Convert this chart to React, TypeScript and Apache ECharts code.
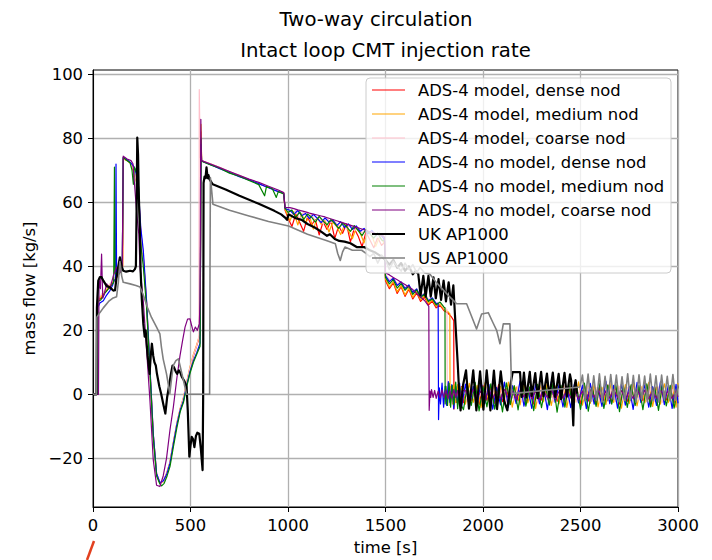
import React, { useEffect, useRef } from "react";
import * as echarts from "echarts";

// ---------- labels ----------
const TITLE = "Two-way circulation";
const SUBTITLE = "Intact loop CMT injection rate";
const X_NAME = "time [s]";
const Y_NAME = "mass flow [kg/s]";
const SERIES_NAMES = [
  "ADS-4 model, dense nod",
  "ADS-4 model, medium nod",
  "ADS-4 model, coarse nod",
  "ADS-4 no model, dense nod",
  "ADS-4 no model, medium nod",
  "ADS-4 no model, coarse nod",
  "UK AP1000",
  "US AP1000",
];
const Y_TICKS = [-20, 0, 20, 40, 60, 80, 100];
const X_TICKS = [0, 500, 1000, 1500, 2000, 2500, 3000];

// ---------- shared sample times ----------
const MID_T = [1000, 1020, 1040, 1060, 1080, 1100, 1120, 1140, 1160, 1180, 1200, 1220, 1240, 1260, 1280, 1300, 1320, 1340, 1360, 1380, 1400, 1420, 1440, 1460, 1480];
const MID_T_B = [1010, 1030, 1050, 1070, 1090, 1110, 1130, 1150, 1170, 1190, 1210, 1230, 1250, 1270, 1290, 1310, 1330, 1350, 1370, 1390, 1410, 1430, 1450, 1470, 1490];
const TAIL_T = [1900, 1920, 1940, 1960, 1980, 2000, 2020, 2040, 2060, 2080, 2100, 2120, 2140, 2160, 2180, 2200, 2220, 2240, 2260, 2280, 2300, 2320, 2340, 2360, 2380, 2400, 2420, 2440, 2460, 2480, 2500, 2520, 2540, 2560, 2580, 2600, 2620, 2640, 2660, 2680, 2700, 2720, 2740, 2760, 2780, 2800, 2820, 2840, 2860, 2880, 2900, 2920, 2940, 2960, 2980, 3000];
const TAIL_T_B = [1910, 1930, 1950, 1970, 1990, 2010, 2030, 2050, 2070, 2090, 2110, 2130, 2150, 2170, 2190, 2210, 2230, 2250, 2270, 2290, 2310, 2330, 2350, 2370, 2390, 2410, 2430, 2450, 2470, 2490, 2510, 2530, 2550, 2570, 2590, 2610, 2630, 2650, 2670, 2690, 2710, 2730, 2750, 2770, 2790, 2810, 2830, 2850, 2870, 2890, 2910, 2930, 2950, 2970, 2990, 3000];

// ---------- ADS-4 model, dense nod (red) ----------
const RED_HEAD = [[0,0],[23,0],[25,29.5],[40,30],[60,31.8],[80,33.2],[100,34.8],[120,36.3],[140,38.3],[152,40],[156,73.6],[175,73.1],[195,72.1],[210,69.5],[225,66.5],[235,61],[245,51],[258,43],[275,28.5],[292,8],[309,-12.5],[326,-24.8],[343,-27.7],[361,-27.2],[378,-24.6],[395,-21.2],[412,-15.2],[430,-9.2],[447,-4.6],[464,-1.3],[481,3.6],[497,8],[515,12],[532,15.2],[549,18.5],[552,52],[554,82],[557,72.9],[600,71.9],[650,70.7],[700,69.5],[750,68.2],[800,67.1],[850,65.8],[900,64.6],[950,63.4],[978,62.8],[985,57.5]];
const RED_MID = [55.1,52.4,56.3,53.7,50.9,55.4,52.8,54.6,49.8,53.9,51.5,54.1,48.7,52.6,50.3,53.2,47.6,51.8,49.4,46.1,50.7,48.2,45.8,49,46.5];
const RED_LOW = [[1495,47.5],[1500,35.5],[1520,33],[1540,34.8],[1560,31.5],[1580,33.6],[1600,30.6],[1620,32.8],[1640,29.8],[1660,31.7],[1680,29],[1700,30.4],[1720,27.9],[1740,29.1],[1760,27],[1780,27.8],[1800,26.1],[1820,25.4],[1840,24],[1850,23],[1851,-4.6],[1856,2],[1864,-2.5],[1872,2.7],[1880,-2.2],[1890,2.4]];
const RED_TAIL = [-2.6,2.9,-2.1,2.4,-3.2,2.7,-1.9,2.2,-2.8,3.0,-2.3,1.8,-3.0,2.5,-2.0,2.8,-2.6,2.1,-3.1,2.6,-1.8,2.3,-2.9,3.1,-2.2,2.0,-2.7,2.6,-2.4,1.9,-3.0,2.7,-2.1,2.4,-2.8,2.2,-1.9,2.9,-2.5,2.3,-3.1,2.0,-2.2,2.7,-2.6,2.1,-2.0,2.8,-2.9,2.4,-2.3,2.5,-1.8,2.2,-2.7,2.6];

// ---------- ADS-4 model, medium nod (orange) ----------
const ORANGE_HEAD = [[0,0],[23,0],[25,30],[40,30.5],[60,32],[80,33.5],[100,35],[120,36.5],[140,38.5],[152,40],[156,73.5],[175,73],[195,72],[210,69],[225,66],[235,60],[245,50],[258,42],[275,28],[292,7.5],[309,-12.8],[326,-25],[343,-27.8],[361,-27.3],[378,-24.8],[395,-21],[412,-15],[430,-9],[447,-4.5],[464,-1],[481,4],[497,8.5],[515,12.5],[532,15.5],[549,19],[552,55],[554,84.3],[557,73],[600,72],[650,70.8],[700,69.4],[750,68.3],[800,67],[850,65.9],[900,64.7],[950,63.5],[978,62.9],[985,57.8]];
const ORANGE_MID = [54.2,57.1,52.9,56.4,53.5,55.7,51.6,55.2,53.1,54.3,50.7,53.8,52.4,49.9,53,51.2,48.6,52.1,50.4,47.3,50.8,49.5,46.2,49.3,47.5];
const ORANGE_LOW = [[1495,47],[1500,36],[1520,33.5],[1540,35.2],[1560,32],[1580,34],[1600,31],[1620,33.2],[1640,30.3],[1660,32.1],[1680,29.5],[1700,30.8],[1720,28.4],[1740,29.5],[1760,27.5],[1780,28.1],[1800,26.5],[1820,25.8],[1830,25.1],[1831,-3.5],[1836,2.5],[1844,-3],[1852,3.2],[1860,-2.6],[1870,3],[1880,-3.4],[1890,2.2]];
const ORANGE_TAIL = [-3.1,3.4,-2.5,2.8,-4.2,3.6,-2.2,3.0,-3.7,2.5,-2.9,3.8,-4.0,2.3,-3.3,3.5,-2.7,2.9,-4.4,3.2,-2.4,3.7,-3.5,2.6,-3.0,3.3,-4.1,2.4,-2.6,3.9,-3.4,2.7,-2.8,3.1,-3.9,2.2,-3.2,3.6,-2.5,2.8,-4.3,3.0,-2.9,3.4,-3.6,2.5,-2.7,3.7,-3.8,2.3,-3.1,3.3,-2.6,2.9,-4.0,3.5];

// ---------- ADS-4 model, coarse nod (pink) ----------
const PINK_HEAD = [[0,0],[24,0],[26,30],[40,31],[60,32.5],[80,34],[100,35.5],[120,37],[140,38.8],[151,40],[155,73.8],[175,73.2],[195,72.2],[210,69.8],[225,66],[235,60.5],[245,50.5],[258,42.5],[275,28.2],[292,7.8],[309,-12.6],[326,-24.9],[343,-27.7],[361,-27.2],[378,-24.7],[395,-21.1],[412,-15.1],[430,-9.1],[447,-4.5],[464,-1.2],[481,3.8],[497,8.3],[515,12.3],[532,15.3],[543,18],[545,95.2],[550,74],[557,73],[600,72.1],[650,70.9],[700,69.6],[750,68.4],[800,67.1],[850,66],[900,64.8],[950,63.6],[978,63],[985,58.6]];
const PINK_MID = [56.9,55.8,57.5,54.6,56.9,55.3,56.2,54.1,55.6,53.2,55,53.7,54.1,52.3,53.8,51.6,52.9,51.2,51.9,50.4,51.3,49.7,50.6,48.9,49.2];
const PINK_LOW = [[1495,48.5],[1500,37.5],[1520,35.8],[1540,36.4],[1560,34.6],[1580,35.2],[1600,33.4],[1620,34],[1640,32.3],[1660,32.9],[1680,31],[1700,31.6],[1720,29.7],[1740,30],[1760,28.4],[1780,28.6],[1800,27],[1815,26.5],[1817,-2.5],[1822,2],[1830,-2.4],[1840,2.6],[1850,-2],[1860,2.3],[1870,-2.6],[1880,2.1],[1890,-1.9]];
const PINK_TAIL = [2.4,-2.2,2.8,-1.9,2.3,-2.6,2.0,-2.3,2.7,-2.0,2.2,-2.5,1.9,-2.1,2.6,-2.4,2.1,-1.8,2.5,-2.7,2.2,-2.0,2.4,-2.3,1.8,-2.5,2.7,-2.1,2.0,-2.4,2.3,-1.9,2.6,-2.2,2.1,-2.6,2.4,-2.0,1.9,-2.3,2.5,-2.1,2.2,-2.6,2.0,-1.8,2.6,-2.4,2.1,-2.2,2.3,-2.5,1.9,-2.0,2.4,-2.2];

// ---------- ADS-4 no model, dense nod (blue) ----------
const BLUE_HEAD = [[0,0],[22,0],[24,27],[35,28.5],[53,29.2],[70,31],[87,32.4],[100,34],[108,35.5],[116,36],[118,71.9],[121,37.6],[130,38],[138,38.6],[150,39],[155,73.9],[170,73.5],[190,72.5],[205,71.5],[215,70.5],[225,68],[235,62],[245,52],[258,44.9],[275,29],[292,8.5],[309,-12.2],[326,-24.7],[343,-27.6],[361,-27],[378,-25],[395,-21.5],[412,-15.5],[430,-9.5],[447,-5],[464,-2],[481,3],[497,7],[515,10.5],[532,13],[549,16],[552,50],[554,78],[557,72.9],[600,71.8],[650,70.5],[700,69.3],[750,68],[800,67],[850,65.8],[900,64.5],[950,63.3],[978,62.8],[985,58]];
const BLUE_MID = [57.5,56.2,57.4,55.8,56.5,54.9,56.2,55,53.6,55.1,53.8,54.5,52.7,53.9,52.1,53.2,51.5,52.6,50.9,51.8,50.1,51.2,49.6,50.3,48.7];
const BLUE_LOW = [[1495,48],[1500,37],[1520,35.2],[1540,36.3],[1560,34],[1580,35.1],[1600,33],[1620,34.2],[1640,31.8],[1660,32.9],[1680,30.5],[1700,31.4],[1720,29.2],[1740,30.1],[1760,28.3],[1770,28.5],[1772,-7.9],[1776,2],[1782,-3],[1790,3.5],[1798,-4],[1806,2.5],[1814,-3.5],[1822,4],[1830,-2.5],[1840,3],[1850,-4.5],[1860,2.5],[1870,-3],[1880,3.5],[1890,-4]];
const BLUE_TAIL = [3.2,-4.1,2.5,-3.6,4.0,-2.8,3.1,-4.6,2.2,-3.3,3.8,-4.0,2.7,-2.9,4.2,-3.7,1.9,-4.4,3.3,-3.0,2.6,-4.8,3.9,-2.5,3.0,-3.9,2.3,-4.2,3.6,-2.7,2.9,-4.5,3.4,-3.1,2.1,-3.8,4.1,-2.9,2.8,-4.3,3.2,-3.4,2.5,-4.7,3.7,-2.6,3.0,-4.0,2.4,-3.5,3.9,-3.2,2.7,-4.4,3.1,-2.8];

// ---------- ADS-4 no model, medium nod (green) ----------
const GREEN_HEAD = [[0,0],[22,0],[25,29],[40,29.5],[60,31.5],[80,33],[95,34],[106,35],[110,71],[113,38],[125,37],[140,38.2],[150,39.5],[155,74],[170,73.2],[190,72.3],[200,70],[207,65.6],[212,71],[225,69],[235,64],[241,50],[250,44],[258,40],[275,27],[292,7],[309,-13.5],[326,-25.5],[343,-28],[352,-28.6],[365,-27.8],[380,-25.5],[395,-22.5],[412,-16.5],[430,-10.5],[447,-5.5],[464,-2.5],[481,2.5],[497,6.5],[515,10],[532,12.5],[549,15],[552,48],[554,80],[557,72.8],[600,71.7],[650,70.6],[700,69.1],[750,68.1],[800,66.8],[850,65.5],[880,62],[890,65],[920,64.2],[940,61.5],[950,63.3],[978,62.6],[985,58.2]];
const GREEN_MID = [56.8,57.6,55.2,57,54.6,56.3,55.4,53.8,55.6,54.2,52.9,54.6,53.3,51.8,53.5,52.4,50.9,52.7,51.1,49.6,51.5,50.2,48.8,50.4,48.2];
const GREEN_LOW = [[1495,47.8],[1500,36.5],[1520,34.5],[1540,35.8],[1560,33.2],[1580,34.6],[1600,32.5],[1620,33.8],[1640,31.2],[1660,32.6],[1680,30.2],[1700,31.3],[1720,29],[1740,29.8],[1760,27.9],[1780,28.8],[1800,27.2],[1805,27],[1806,-3],[1810,2.5],[1818,-3.5],[1826,3.5],[1834,-4],[1842,2.8],[1850,-3.2],[1860,3.8],[1870,-4.5],[1880,2.6],[1890,-3.6]];
const GREEN_TAIL = [-4.8,2.9,-3.5,3.7,-5.2,2.4,-3.9,3.3,-4.6,2.1,-5.5,3.6,-3.2,2.7,-4.9,3.9,-3.7,2.3,-5.1,3.1,-4.2,2.6,-3.4,3.8,-5.6,2.8,-4.0,3.2,-3.6,2.5,-4.7,3.5,-5.3,2.2,-3.8,3.6,-4.4,2.9,-3.1,3.4,-5.4,2.6,-4.1,3.0,-3.5,2.7,-4.8,3.3,-3.9,2.4,-5.0,3.1,-3.6,2.8,-4.3,2.5];

// ---------- ADS-4 no model, coarse nod (purple) ----------
const PURPLE_HEAD = [[0,0],[28,0],[31,36],[38,33],[44,43.8],[50,30],[56,31],[70,34.5],[87,33],[100,36],[104,37],[121,39.7],[138,38],[150,40],[155,74.4],[175,73.5],[195,73],[205,72],[215,64],[225,56],[235,50],[241,39.7],[258,29],[275,13.7],[292,-1.9],[309,-20.5],[326,-28.4],[343,-28.8],[360,-25.5],[377,-20],[395,-11],[412,-4],[430,5],[446,12],[460,17],[472,21],[485,23.5],[497,23.6],[510,20.5],[515,19.5],[525,21],[535,20],[545,22],[549,29],[551,60],[553,85.9],[556,73],[600,72],[650,70.8],[700,69.6],[750,68.4],[800,67.2],[850,66.2],[900,65],[950,63.8],[978,63],[985,58.4]];
const PURPLE_MID = [58.3,58,57.6,57.3,57,56.6,56.3,56,55.7,55.4,55,54.6,54.2,53.8,53.4,53,52.6,52.2,51.8,51.4,51,50.6,50.2,49.8,49.4];
const PURPLE_LOW = [[1495,49],[1500,38],[1520,37.3],[1540,36.5],[1560,35.8],[1580,35],[1600,34.3],[1620,33.5],[1640,32.7],[1660,31.5],[1680,30.4],[1700,29.3],[1712,28.3],[1722,27.5],[1724,-5],[1728,1],[1732,-1],[1736,1.5],[1744,-1],[1752,1.2],[1760,-1.3],[1770,1],[1780,-1.2],[1790,1.4],[1800,-1],[1810,1.3],[1820,-1.4],[1830,1],[1840,-1.2],[1850,1.5],[1860,-1],[1870,1.2],[1880,-1.3],[1890,1]];
const PURPLE_TAIL = [1.2,-1.3,1.5,-0.9,1.1,-1.6,1.4,-1.1,0.9,-1.4,1.6,-1.2,1.0,-1.5,1.3,-0.8,1.5,-1.3,1.1,-1.6,1.2,-1.0,1.4,-1.4,0.9,-1.2,1.6,-1.1,1.2,-1.5,1.0,-1.3,1.4,-0.9,1.3,-1.6,1.1,-1.2,1.5,-1.0,1.2,-1.4,0.9,-1.3,1.6,-1.1,1.3,-1.5,1.0,-1.2,1.4,-1.0,1.2,-1.4,1.1,-0.8];

// ---------- UK AP1000 (black) ----------
const UK_AP1000 = [[0,0],[18,0],[20,27],[27,35.5],[35,36.6],[44,36.6],[53,35.5],[70,33.8],[87,33.4],[104,32.4],[113,32.5],[121,36.6],[130,40],[138,42.8],[147,40],[155,38.6],[170,38.3],[190,38.6],[205,38.4],[215,39.1],[220,40],[224,60],[227,80.2],[231,75],[235,62],[240,52],[244,39],[250,30],[258,22],[265,18],[270,20],[280,12],[290,6.4],[296,12],[302,15.8],[309,12],[315,10],[322,9],[328,6.4],[340,2.5],[350,0],[362,-3.5],[371,-6],[380,-1],[389,2.3],[400,6.5],[408,9],[415,8.5],[425,7],[432,6.4],[440,7.5],[448,6.8],[455,5.5],[470,4],[480,2.3],[486,-5],[494,-19.5],[500,-16],[506,-13.3],[513,-14],[520,-16.5],[528,-13],[535,-12],[545,-12.3],[553,-17],[562,-23.7],[565,0],[567,66],[572,68],[577,67.5],[582,70.9],[588,67.5],[592,68.5],[597,67.2],[614,65.6],[680,64],[751,62],[850,59.5],[930,57.3],[965,56.2],[985,55.2],[995,54.5],[1003,56.2],[1040,55],[1070,54.5],[1100,53.2],[1137,52.1],[1170,50.8],[1200,49.5],[1215,50],[1240,48.5],[1263,47.9],[1290,47.7],[1320,47.2],[1352,46],[1390,46],[1420,45],[1450,44.2],[1480,43],[1500,42],[1520,40.5],[1540,42],[1560,39.5],[1580,41],[1600,38.6],[1620,40],[1640,37.5],[1655,38.5],[1668,37.6],[1680,31],[1694,37],[1706,30.5],[1720,37],[1732,30.5],[1746,36.5],[1758,30],[1772,36],[1785,29.5],[1798,35.5],[1810,29],[1824,35],[1836,28],[1848,34],[1856,25],[1870,10],[1880,-2],[1885,-5],[1898,3],[1913,7.5],[1928,-4.5],[1950,7.5],[1966,-5],[1985,7.2],[2002,-4.8],[2019,7.5],[2038,-5],[2056,7.4],[2072,-4.6],[2091,7.2],[2108,-2],[2125,-5],[2138,2],[2152,6.9],[2190,6.9],[2198,-0.8],[2210,6.8],[2222,-1],[2240,7],[2250,-0.5],[2268,6.6],[2280,-1.2],[2298,7],[2310,-0.6],[2328,6.5],[2340,-1],[2358,6.8],[2370,-0.8],[2388,6.4],[2400,-1.5],[2418,6.7],[2430,-0.7],[2446,6.2],[2452,4.4],[2458,-3],[2463,-9.7],[2468,2],[2475,4.4],[2482,0.2]];

// ---------- US AP1000 (gray) ----------
const US_AP1000 = [[0,0],[18,0],[20,24.1],[35,25.5],[53,27],[80,29],[100,30],[121,30.5],[130,35],[138,41.5],[147,37],[155,35],[190,34.5],[220,34],[241,33.5],[258,31],[280,27],[300,24],[326,21],[343,18.9],[351,14.7],[360,11],[377,6.4],[394,0.2],[403,5],[412,9],[425,10.5],[438,11.1],[450,8],[465,4],[480,0],[598,0],[600,40],[602,67.7],[608,64],[615,59.4],[700,57.5],[800,55.7],[900,54],[1003,52.6],[1100,50],[1200,48],[1243,47],[1255,44],[1268,41.8],[1280,44.5],[1292,46],[1330,45],[1378,45],[1400,44],[1420,43],[1440,44],[1460,41],[1480,43.5],[1500,42],[1520,39],[1540,41.5],[1560,40],[1580,38.5],[1600,41],[1620,39],[1640,40.5],[1660,38],[1677,39.6],[1700,38],[1728,37.5],[1760,35],[1790,33],[1820,31],[1845,29.5],[1865,28.3],[1916,28.3],[1967,20.4],[1993,25.1],[2027,25.5],[2050,22.5],[2070,20],[2087,15.8],[2104,22],[2138,22],[2147,0.2],[2497,2.3],[2510,6],[2524,-2],[2539,6.3],[2553,-2.2],[2568,5.8],[2582,-1.8],[2597,6.4],[2611,-2.4],[2626,5.6],[2640,-2],[2655,6.2],[2669,-1.6],[2684,6],[2698,-2.3],[2713,5.5],[2727,-2],[2742,6.4],[2756,-1.9],[2771,5.9],[2785,-2.5],[2800,6.1],[2814,-1.7],[2829,5.7],[2843,-2.2],[2858,6.3],[2872,-2],[2887,5.8],[2901,-2.4],[2916,6],[2930,-1.8],[2945,5.6],[2959,-2.1],[2974,6.2],[2988,-1.9],[3000,3]];

const zip = (t: number[], v: number[]) => t.map((x, i) => [x, v[i]]);
const build = (head: number[][], midT: number[], mid: number[], low: number[][], tailT: number[], tail: number[]) =>
  [...head, ...zip(midT, mid), ...low, ...zip(tailT, tail)];

const COLORS = ["#ff0000", "#ffa500", "#ffc0cb", "#0000ff", "#008000", "#800080", "#000000", "#808080"];
const WIDTHS = [1.2, 1.2, 1.2, 1.2, 1.2, 1.2, 2.2, 1.6];

const FONT = "'DejaVu Sans', 'Liberation Sans', sans-serif";

// plot-area geometry (pixels)
const G_LEFT = 93, G_TOP = 70, G_W = 585, G_H = 437;

export default function App() {
  const ref = useRef<HTMLDivElement>(null);
  useEffect(() => {
    if (!ref.current) return;
    const chart = echarts.init(ref.current, undefined, { renderer: "svg" });
    const data = [
      build(RED_HEAD, MID_T, RED_MID, RED_LOW, TAIL_T, RED_TAIL),
      build(ORANGE_HEAD, MID_T_B, ORANGE_MID, ORANGE_LOW, TAIL_T_B, ORANGE_TAIL),
      build(PINK_HEAD, MID_T, PINK_MID, PINK_LOW, TAIL_T, PINK_TAIL),
      build(BLUE_HEAD, MID_T_B, BLUE_MID, BLUE_LOW, TAIL_T_B, BLUE_TAIL),
      build(GREEN_HEAD, MID_T, GREEN_MID, GREEN_LOW, TAIL_T, GREEN_TAIL),
      build(PURPLE_HEAD, MID_T_B, PURPLE_MID, PURPLE_LOW, TAIL_T_B, PURPLE_TAIL),
      UK_AP1000,
      US_AP1000,
    ];
    const series = SERIES_NAMES.map((name, i) => ({
      name,
      type: "line",
      data: data[i],
      showSymbol: false,
      symbol: "none",
      clip: true,
      z: 2 + i * 0.01,
      lineStyle: { color: COLORS[i], width: WIDTHS[i], join: "round" },
      itemStyle: { color: COLORS[i] },
      emphasis: { disabled: true },
    }));

    const legendEls: any[] = [
      {
        type: "rect",
        z: 100,
        shape: { x: 366, y: 78, width: 305, height: 195, r: 4 },
        style: { fill: "rgba(255,255,255,0.8)", stroke: "#cccccc", lineWidth: 1 },
      },
    ];
    SERIES_NAMES.forEach((n, i) => {
      const y = 90 + 24 * i;
      legendEls.push({
        type: "line",
        z: 101,
        shape: { x1: 372, y1: y, x2: 405, y2: y },
        style: { stroke: COLORS[i], lineWidth: WIDTHS[i] },
      });
      legendEls.push({
        type: "text",
        z: 101,
        x: 418,
        y: y,
        style: {
          text: n,
          fill: "#000",
          font: `16.4px ${FONT}`,
          align: "left",
          verticalAlign: "middle",
          textAlign: "left",
          textVerticalAlign: "middle",
        },
      });
    });

    const fmtY = (v: number) => {
      const r = Math.round(v);
      if (Math.abs(v - r) > 1e-6 || r % 20 !== 0) return "";
      return r < 0 ? "\u2212" + Math.abs(r) : String(r);
    };
    const fmtX = (v: number) => String(Math.round(v));

    chart.setOption({
      animation: false,
      textStyle: { fontFamily: FONT },
      grid: {
        left: G_LEFT, top: G_TOP, width: G_W, height: G_H,
        show: true, borderColor: "#000", borderWidth: 1, backgroundColor: "transparent",
        containLabel: false,
      },
      xAxis: {
        type: "value",
        min: 0,
        max: 3000,
        interval: 500,
        name: X_NAME,
        nameLocation: "middle",
        nameGap: 32,
        nameTextStyle: { color: "#000", fontSize: 16.4, fontFamily: FONT },
        axisLine: { onZero: false, lineStyle: { color: "#000", width: 1 } },
        axisTick: { show: true, inside: false, length: 5, lineStyle: { color: "#000", width: 1 }, customValues: X_TICKS },
        axisLabel: { color: "#000", fontSize: 16.4, fontFamily: FONT, margin: 10, formatter: fmtX, customValues: X_TICKS },
        splitLine: { show: true, lineStyle: { color: "#b0b0b0", width: 1.3 } },
      },
      yAxis: {
        type: "value",
        min: -35.2,
        max: 101.3,
        splitNumber: 7,
        name: Y_NAME,
        nameLocation: "middle",
        nameGap: 52,
        nameTextStyle: { color: "#000", fontSize: 16.4, fontFamily: FONT },
        axisLine: { show: true, onZero: false, lineStyle: { color: "#000", width: 1 } },
        axisTick: { show: true, inside: false, length: 5, lineStyle: { color: "#000", width: 1 }, customValues: Y_TICKS },
        axisLabel: { color: "#000", fontSize: 16.4, fontFamily: FONT, margin: 10, formatter: fmtY, customValues: Y_TICKS, showMinLabel: true, showMaxLabel: true },
        splitLine: { show: true, lineStyle: { color: "#b0b0b0", width: 1.3 } },
      },
      series,
      graphic: [
        {
          type: "text",
          z: 100,
          x: 376,
          y: 19,
          style: {
            text: TITLE, fill: "#000", font: `19.7px ${FONT}`,
            align: "center", verticalAlign: "middle", textAlign: "center", textVerticalAlign: "middle",
          },
        },
        {
          type: "text",
          z: 100,
          x: G_LEFT + G_W / 2,
          y: 50,
          style: {
            text: SUBTITLE, fill: "#000", font: `19.7px ${FONT}`,
            align: "center", verticalAlign: "middle", textAlign: "center", textVerticalAlign: "middle",
          },
        },
        ...legendEls,
        {
          type: "line",
          z: 100,
          shape: { x1: 94, y1: 541, x2: 87, y2: 560 },
          style: { stroke: "#e2401f", lineWidth: 2.5 },
        },
      ],
    });
    return () => chart.dispose();
  }, []);
  return (
    <div
      ref={ref}
      style={{ position: "absolute", left: 0, top: 0, width: 712, height: 560, background: "#fff" }}
    />
  );
}
